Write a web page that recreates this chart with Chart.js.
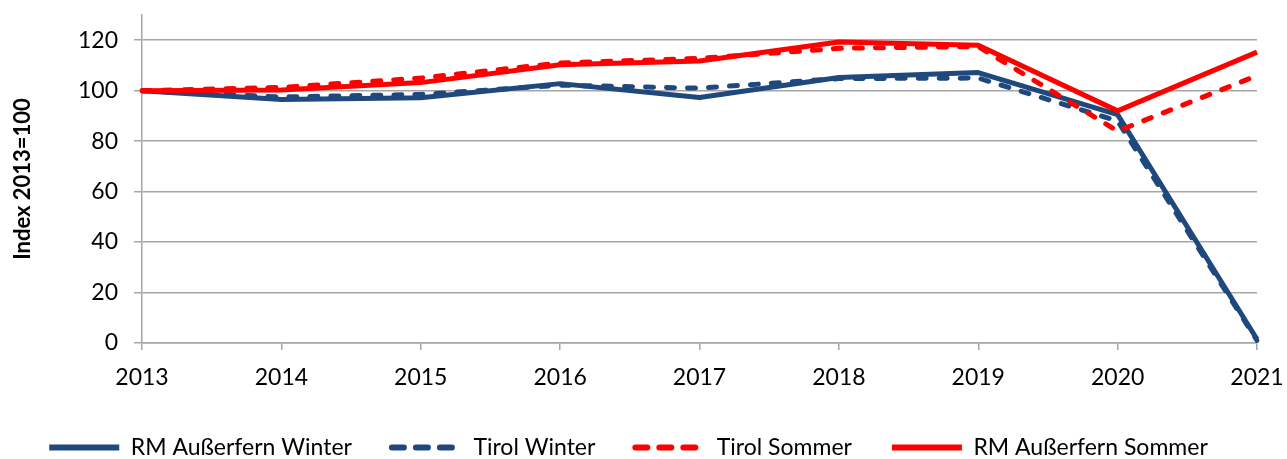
<!DOCTYPE html>
<html>
<head>
<meta charset="utf-8">
<script src="https://cdn.jsdelivr.net/npm/chart.js@4"></script>
<style>
  html, body { margin: 0; padding: 0; background: #fff; }
  #wrap { width: 1287px; height: 459px; }
</style>
</head>
<body>
<div id="wrap"><canvas id="indexChart"></canvas></div>
<script>
const years = ["2013", "2014", "2015", "2016", "2017", "2018", "2019", "2020", "2021"];
const rmWinter = [100, 96.5, 97.2, 102.8, 97.3, 105.2, 107.2, 90.5, 1.5];
const tirolWinter = [100, 97.5, 98.5, 102.2, 101, 104.8, 105, 88, 1];
const tirolSommer = [100, 101.3, 105, 111, 112.8, 116.8, 117.5, 84, 106];
const rmSommer = [100, 100.3, 103.2, 110.3, 111.8, 119.3, 118, 92, 115.3];
const yTicks = [0, 20, 40, 60, 80, 100, 120];

const blue = "#1F497D";
const red = "#FF0000";
const grid = "#A6A6A6";
const font = "Lato";

const ctx = document.getElementById("indexChart").getContext("2d");

new Chart(ctx, {
    type: "line",
    data: {
        labels: years,
        datasets: [
            { label: "RM Außerfern Winter", data: rmWinter, borderColor: blue, borderWidth: 5, order: 2 },
            { label: "Tirol Winter", data: tirolWinter, borderColor: blue, borderWidth: 5, borderDash: [8, 13], borderCapStyle: "round", order: 3 },
            { label: "Tirol Sommer", data: tirolSommer, borderColor: red, borderWidth: 5, borderDash: [8, 13], borderCapStyle: "round", order: 1 },
            { label: "RM Außerfern Sommer", data: rmSommer, borderColor: red, borderWidth: 5, order: 0 }
        ]
    },
    options: {
        responsive: true,
        maintainAspectRatio: false,
        animation: false,
        elements: {
            point: { radius: 0 },
            line: { tension: 0, fill: false, borderJoinStyle: "round" }
        },
        layout: { padding: { left: 0, right: 30, top: 15, bottom: -10 } },
        plugins: {
            tooltip: { enabled: false },
            legend: {
                position: "bottom",
                labels: {
                    usePointStyle: true,
                    pointStyleWidth: 70,
                    boxHeight: 18,
                    padding: 40,
                    color: "#000",
                    font: { family: font, size: 23 },
                    generateLabels: (chart) => chart.data.datasets.map((ds, i) => ({
                        text: ds.label,
                        datasetIndex: i,
                        pointStyle: "line",
                        strokeStyle: ds.borderColor,
                        fillStyle: ds.borderColor,
                        lineWidth: 6,
                        lineDash: ds.borderDash ? [12, 12] : [],
                        lineCap: ds.borderDash ? "round" : "butt",
                        fontColor: "#000"
                    }))
                }
            }
        },
        scales: {
            x: {
                offset: false,
                grid: { drawOnChartArea: false, drawTicks: true, tickLength: 7, color: grid, lineWidth: 1.5 },
                border: { color: grid, width: 1.5 },
                ticks: { color: "#000", font: { family: font, size: 23 }, padding: 14, maxRotation: 0 },
                afterFit: (scale) => {
                    scale.height = 53;
                    scale.paddingLeft = 0;
                    scale.paddingRight = 0;
                }
            },
            y: {
                min: 0,
                max: 130,
                afterBuildTicks: (scale) => { scale.ticks = yTicks.map(v => ({ value: v })); },
                grid: { color: grid, lineWidth: 1.5, tickLength: 8 },
                border: { color: grid, width: 1.5 },
                ticks: { color: "#000", font: { family: font, size: 23 }, padding: 16 },
                title: { display: true, text: "Index 2013=100", color: "#000", font: { family: font, size: 22, weight: "bold" }, padding: { top: 10, bottom: 0 } },
                afterFit: (scale) => {
                    scale.width = 142;
                    scale.paddingTop = 0;
                    scale.paddingBottom = 0;
                }
            }
        }
    }
});
</script>
</body>
</html>
